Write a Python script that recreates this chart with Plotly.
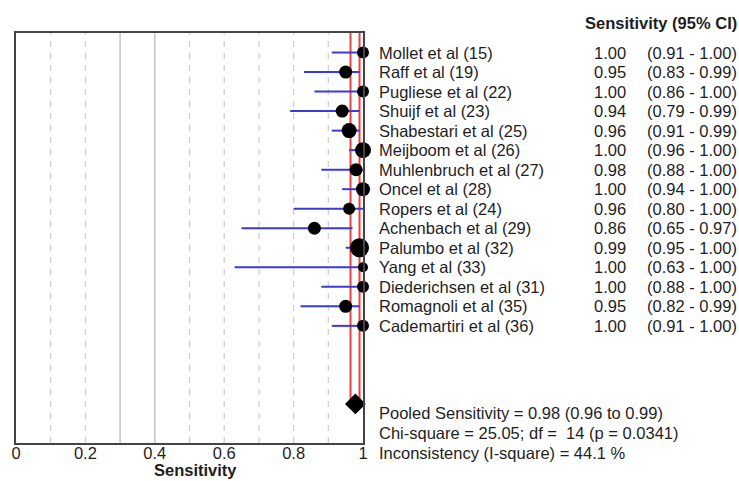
import plotly.graph_objects as go

studies = ["Mollet et al (15)", "Raff et al (19)", "Pugliese et al (22)", "Shuijf et al (23)",
           "Shabestari et al (25)", "Meijboom et al (26)", "Muhlenbruch et al (27)", "Oncel et al (28)",
           "Ropers et al (24)", "Achenbach et al (29)", "Palumbo et al (32)", "Yang et al (33)",
           "Diederichsen et al (31)", "Romagnoli et al (35)", "Cademartiri et al (36)"]
sens = [1.00, 0.95, 1.00, 0.94, 0.96, 1.00, 0.98, 1.00, 0.96, 0.86, 0.99, 1.00, 1.00, 0.95, 1.00]
ci_lo = [0.91, 0.83, 0.86, 0.79, 0.91, 0.96, 0.88, 0.94, 0.80, 0.65, 0.95, 0.63, 0.88, 0.82, 0.91]
ci_hi = [1.00, 0.99, 1.00, 0.99, 0.99, 1.00, 1.00, 1.00, 1.00, 0.97, 1.00, 1.00, 1.00, 0.99, 1.00]
weights = [12, 13, 12, 13, 15, 16, 13, 14, 12, 13, 19, 10, 12, 13, 12]  # marker diameters
pooled = 0.978
pooled_lo = 0.964
pooled_hi = 0.990
grid_dashed = [0.1, 0.2, 0.5, 0.6, 0.7, 0.8, 0.9]
grid_solid = [0.3, 0.4]
tick_vals = [0, 0.2, 0.4, 0.6, 0.8, 1]
tick_text = ["0", "0.2", "0.4", "0.6", "0.8", "1"]
footer = ["Pooled Sensitivity = 0.98 (0.96 to 0.99)",
          "Chi-square = 25.05; df =  14 (p = 0.0341)",
          "Inconsistency (I-square) = 44.1 %"]

n = len(studies)
ys = list(range(n))
pooled_y = n + 3

FONT = "Liberation Sans, Arial, sans-serif"
TXT = "#1e1e1e"
FS = 16.5

fig = go.Figure()

# grid lines
for g in grid_dashed:
    fig.add_shape(type="line", xref="x", yref="paper", x0=g, x1=g, y0=0, y1=1,
                  line=dict(color="#cfcfcf", width=1.3, dash="6px,6px"), layer="below")
for g in grid_solid:
    fig.add_shape(type="line", xref="x", yref="paper", x0=g, x1=g, y0=0, y1=1,
                  line=dict(color="#c4c4c4", width=1.5), layer="below")

# red pooled CI lines
fig.add_trace(go.Scatter(x=[pooled_lo, pooled_lo, None, pooled_hi, pooled_hi],
                         y=[-1, pooled_y - 0.2, None, -1, pooled_y - 0.2],
                         mode="lines", line=dict(color="#ee4040", width=2),
                         hoverinfo="skip", showlegend=False))

# CI lines
cx, cy = [], []
for lo, hi, y in zip(ci_lo, ci_hi, ys):
    cx += [lo, hi, None]
    cy += [y, y, None]
fig.add_trace(go.Scatter(x=cx, y=cy, mode="lines", line=dict(color="#3a3ad8", width=2),
                         hoverinfo="skip", showlegend=False))

# points
fig.add_trace(go.Scatter(x=sens, y=ys, mode="markers",
                         marker=dict(color="black", size=weights, symbol="circle", opacity=1,
                                     line=dict(width=0)),
                         showlegend=False, cliponaxis=False))

# pooled diamond
fig.add_trace(go.Scatter(x=[pooled], y=[pooled_y], mode="markers",
                         marker=dict(color="black", size=16, symbol="diamond", opacity=1,
                                     line=dict(width=0)),
                         showlegend=False, cliponaxis=False))

# right side text
x_lab = 1.040
x_val = 1.765
x_ci = 1.812
for s, v, lo, hi, y in zip(studies, sens, ci_lo, ci_hi, ys):
    fig.add_annotation(x=x_lab, y=y, xref="paper", yref="y", text=s, showarrow=False,
                       xanchor="left", yanchor="middle", font=dict(size=FS, color=TXT, family=FONT))
    fig.add_annotation(x=x_val, y=y, xref="paper", yref="y", text=f"{v:.2f}", showarrow=False,
                       xanchor="right", yanchor="middle", font=dict(size=FS, color=TXT, family=FONT))
    fig.add_annotation(x=x_ci, y=y, xref="paper", yref="y", text=f"({lo:.2f} - {hi:.2f})", showarrow=False,
                       xanchor="left", yanchor="middle", font=dict(size=FS, color=TXT, family=FONT))

fig.add_annotation(x=2.085, y=1.024, xref="paper", yref="paper", text="<b>Sensitivity (95% CI)</b>",
                   showarrow=False, xanchor="right", yanchor="middle",
                   font=dict(size=FS, color=TXT, family=FONT))

for i, t in enumerate(footer):
    fig.add_annotation(x=x_lab, y=0.073 - i * 0.0488, xref="paper", yref="paper", text=t, showarrow=False,
                       xanchor="left", yanchor="middle", font=dict(size=FS, color=TXT, family=FONT))

# x-axis title
fig.add_annotation(x=0.516, y=-0.065, xref="paper", yref="paper", text="<b>Sensitivity</b>",
                   showarrow=False, xanchor="center", yanchor="middle",
                   font=dict(size=FS, color=TXT, family=FONT))

fig.update_xaxes(range=[0, 1], tickvals=tick_vals, ticktext=tick_text, showgrid=False, zeroline=False,
                 showline=True, mirror=True, linecolor="#444444", linewidth=1.5, ticks="",
                 ticklabelstandoff=-6, automargin=False,
                 tickfont=dict(size=FS, color=TXT, family=FONT))
fig.update_yaxes(range=[20, -1], showgrid=False, zeroline=False, showticklabels=False, automargin=False,
                 showline=True, mirror=True, linecolor="#444444", linewidth=1.5, ticks="")

fig.update_layout(width=739, height=481, margin=dict(l=16, r=376, t=33, b=38),
                  plot_bgcolor="white", paper_bgcolor="white", font=dict(family=FONT))

fig.write_html("out.html")
